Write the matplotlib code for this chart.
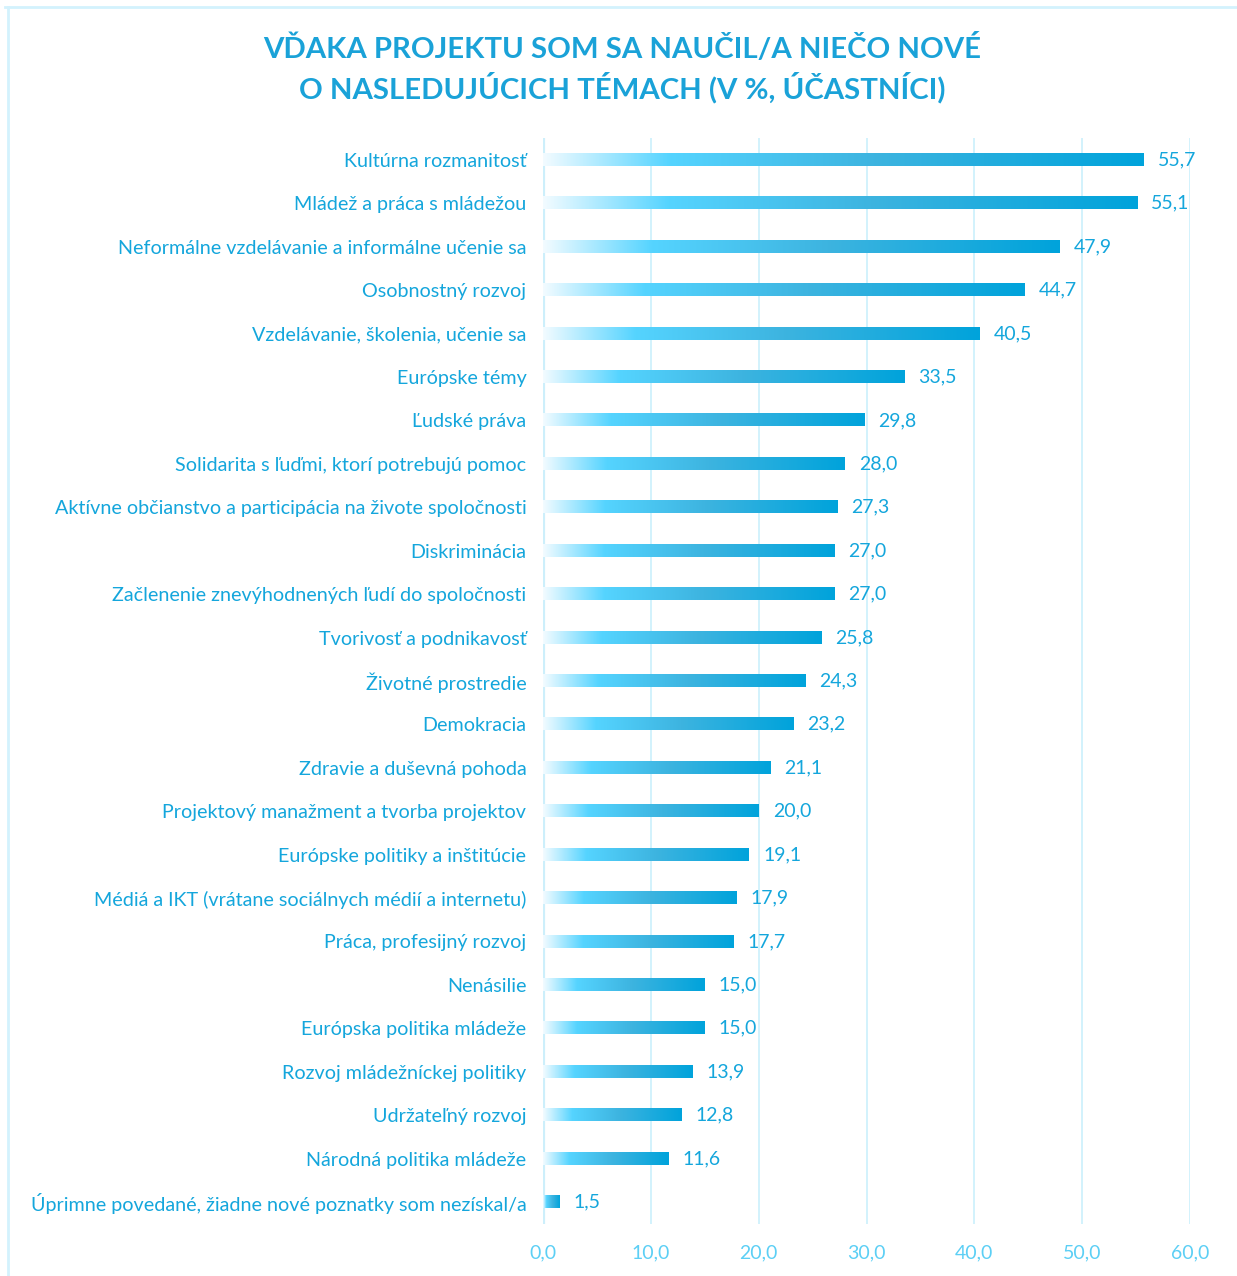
import matplotlib
matplotlib.use("Agg")
import matplotlib.pyplot as plt
import numpy as np
from matplotlib.colors import LinearSegmentedColormap
from matplotlib.lines import Line2D

# data (top to bottom)
topics = [
    "Kultúrna rozmanitosť",
    "Mládež a práca s mládežou",
    "Neformálne vzdelávanie a informálne učenie sa",
    "Osobnostný rozvoj",
    "Vzdelávanie, školenia, učenie sa",
    "Európske témy",
    "Ľudské práva",
    "Solidarita s ľuďmi, ktorí potrebujú pomoc",
    "Aktívne občianstvo a participácia na živote spoločnosti",
    "Diskriminácia",
    "Začlenenie znevýhodnených ľudí do spoločnosti",
    "Tvorivosť a podnikavosť",
    "Životné prostredie",
    "Demokracia",
    "Zdravie a duševná pohoda",
    "Projektový manažment a tvorba projektov",
    "Európske politiky a inštitúcie",
    "Médiá a IKT (vrátane sociálnych médií a internetu)",
    "Práca, profesijný rozvoj",
    "Nenásilie",
    "Európska politika mládeže",
    "Rozvoj mládežníckej politiky",
    "Udržateľný rozvoj",
    "Národná politika mládeže",
    "Úprimne povedané, žiadne nové poznatky som nezískal/a",
]
values = [55.7, 55.1, 47.9, 44.7, 40.5, 33.5, 29.8, 28.0, 27.3, 27.0, 27.0,
          25.8, 24.3, 23.2, 21.1, 20.0, 19.1, 17.9, 17.7, 15.0, 15.0, 13.9,
          12.8, 11.6, 1.5]
xticks = [0, 10, 20, 30, 40, 50, 60]

TEXT = "#14A6DC"
TICK = "#5CCFF5"
GRID = "#CFF1FC"

plt.rcParams['font.family'] = ['Lato', 'DejaVu Sans']

grad = LinearSegmentedColormap.from_list(
    "bar", [(0.0, "#F2FBFF"), (0.21, "#55D4FF"), (0.55, "#3DB4E0"), (1.0, "#00A3DB")])
ramp = np.linspace(0, 1, 256).reshape(1, -1)

fig = plt.figure(figsize=(12.37, 12.76), dpi=100)
ax = fig.add_axes([0.439, 0.041, 0.523, 0.8507])

bar_h = 0.28
for i, v in enumerate(values):
    ax.imshow(ramp, cmap=grad, aspect='auto', interpolation='bilinear',
              extent=(0, v, i + bar_h / 2, i - bar_h / 2), zorder=3)
    ax.text(v + 1.3, i, f"{v:.1f}".replace(".", ","), ha='left', va='center',
            fontsize=14, color=TEXT, zorder=4)

ax.set_xlim(0, 60)
ax.set_ylim(len(values) - 0.5, -0.5)
ax.set_yticks(range(len(values)))
ax.set_yticklabels(topics, fontsize=14.2, color=TEXT)
ax.set_xticks(xticks)
ax.set_xticklabels([f"{t:.1f}".replace(".", ",") for t in xticks], fontsize=14, color=TICK)
ax.tick_params(axis='both', length=0)
ax.tick_params(axis='y', pad=12)
ax.tick_params(axis='x', pad=15)
for xt in xticks[1:]:
    ax.axvline(xt, color=GRID, lw=1.3, zorder=1)
ax.axvline(0, color="#CDEFFB", lw=3, zorder=2)
for s in ax.spines.values():
    s.set_visible(False)

fig.text(0.503, 0.962, "VĎAKA PROJEKTU SOM SA NAUČIL/A NIEČO NOVÉ",
         ha='center', va='center', fontsize=21.2, fontweight='bold', color="#1AA2D8")
fig.text(0.503, 0.931, "O NASLEDUJÚCICH TÉMACH (V %, ÚČASTNÍCI)",
         ha='center', va='center', fontsize=21.2, fontweight='bold', color="#1AA2D8")

# light frame lines (top and left)
fig.add_artist(Line2D([0.004, 1.0], [1 - 7 / 1276, 1 - 7 / 1276], transform=fig.transFigure,
                      color="#D3F2FD", lw=2))
fig.add_artist(Line2D([8 / 1237, 8 / 1237], [0, 1 - 7 / 1276], transform=fig.transFigure,
                      color="#D3F2FD", lw=2))

fig.savefig("out.png", dpi=100, facecolor="white")
